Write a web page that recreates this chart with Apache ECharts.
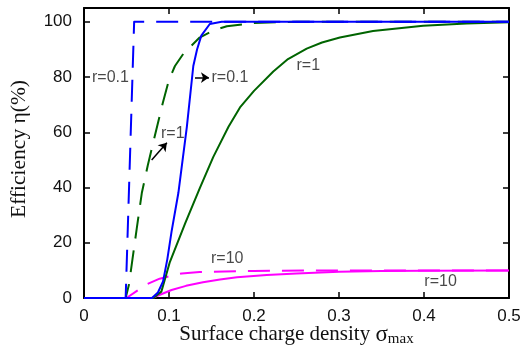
<!DOCTYPE html>
<html>
<head>
<meta charset="utf-8">
<script src="https://cdn.jsdelivr.net/npm/echarts@6/dist/echarts.min.js"></script>
<style>
  html, body { margin: 0; padding: 0; background: #fff; }
  #chart { width: 524px; height: 351px; }
</style>
</head>
<body>
<div id="chart"></div>
<script>
// curves: [sigma_max, efficiency %]
const blueDash = [[0, 0], [0.049, 0], [0.059, 100], [0.5, 100]];
const blueSolid = [[0, 0], [0.08, 0], [0.087, 2], [0.093, 6], [0.098, 14], [0.103, 24], [0.111, 38],
  [0.121, 62], [0.1286, 84], [0.133, 90], [0.138, 95], [0.148, 99.2], [0.162, 100], [0.5, 100]];
const greenDash = [[0, 0], [0.049, 0], [0.053, 5], [0.057, 14], [0.062, 25], [0.068, 38], [0.075, 48],
  [0.082, 57], [0.093, 71], [0.1, 79], [0.107, 84], [0.117, 88.5], [0.136, 94.3], [0.152, 96.8],
  [0.168, 98.4], [0.2, 99.6], [0.25, 100], [0.5, 100]];
const greenSolid = [[0, 0], [0.0816, 0], [0.091, 2.3], [0.101, 13], [0.119, 27], [0.1365, 40], [0.152, 51],
  [0.17, 62], [0.1835, 69], [0.2, 75], [0.2227, 82], [0.24, 86.5], [0.262, 90.3], [0.28, 92.5],
  [0.301, 94.3], [0.34, 96.7], [0.399, 98.6], [0.45, 99.4], [0.5, 99.8]];
const magentaDash = [[0, 0], [0.05, 0], [0.074, 5], [0.089, 7], [0.115, 8.9], [0.136, 9.4], [0.2, 9.8],
  [0.27, 10], [0.5, 10]];
const magentaSolid = [[0, 0], [0.08, 0], [0.103, 2.9], [0.12, 4.4], [0.14, 5.7], [0.16, 6.7], [0.18, 7.5],
  [0.215, 8.3], [0.25, 8.9], [0.3, 9.5], [0.35, 9.8], [0.4, 9.9], [0.5, 10]];

// labels next to the curves
const noteText = ['r=0.1', 'r=0.1', 'r=1', 'r=1', 'r=10', 'r=10'];
const noteX = [0.0094, 0.150, 0.250, 0.0906, 0.1494, 0.4004];
const noteY = [79.8, 79.8, 84, 59.5, 14.3, 6.1];
const arrows = [
  [[0.1306, 79.8], [0.147, 79.8]],
  [[0.0796, 50.0], [0.0975, 56.2]]
];

const xTicks = { min: 0, max: 0.5, interval: 0.1 };
const yTicks = { min: 0, max: 105, interval: 20 };

const blue = '#0000ff', green = '#006400', magenta = '#ff00ff';
const dash = [22, 12];

const lineSeries = (name, data, color, dashed) => ({
  name,
  type: 'line',
  data,
  showSymbol: false,
  symbol: 'none',
  smooth: false,
  lineStyle: { color, width: 2, type: dashed ? dash : 'solid', join: 'round' },
  z: 3
});

let chart = echarts.init(document.getElementById('chart'));

const frame = { show: true, onZero: false, lineStyle: { color: '#000', width: 2 } };
const tick = { show: true, inside: true, length: 6, lineStyle: { color: '#000', width: 1.5 } };

chart.setOption({
  animation: false,
  grid: { left: 84, right: 15, top: 8, bottom: 53, containLabel: false, outerBoundsMode: 'none' },
  xAxis: [{
    type: 'value',
    ...xTicks,
    name: '{n|Surface charge density }{s|σ}{sub|max}',
    nameLocation: 'middle',
    nameGap: 24,
    nameMoveOverlap: false,
    nameTextStyle: {
      rich: {
        n: { fontFamily: 'Liberation Serif', fontSize: 21, color: '#111' },
        s: { fontFamily: 'Liberation Serif', fontSize: 23, color: '#111' },
        sub: { fontFamily: 'Liberation Serif', fontSize: 15, color: '#111', padding: [10, 0, 0, 0] }
      }
    },
    axisLine: frame,
    axisTick: tick,
    splitLine: { show: false },
    axisLabel: { fontFamily: 'Liberation Sans', fontSize: 17, color: '#111', margin: 10 }
  }, {
    type: 'value',
    ...xTicks,
    position: 'top',
    axisLine: frame,
    axisTick: tick,
    splitLine: { show: false },
    axisLabel: { show: false }
  }],
  yAxis: [{
    type: 'value',
    ...yTicks,
    name: 'Efficiency η(%)',
    nameLocation: 'middle',
    nameGap: 54,
    nameMoveOverlap: false,
    nameTextStyle: { fontFamily: 'Liberation Serif', fontSize: 21.5, color: '#111', padding: [0, 0, 0, 8] },
    axisLine: frame,
    axisTick: tick,
    splitLine: { show: false },
    axisLabel: { fontFamily: 'Liberation Sans', fontSize: 17, color: '#111', margin: 12, showMaxLabel: false }
  }, {
    type: 'value',
    ...yTicks,
    position: 'right',
    axisLine: frame,
    axisTick: tick,
    splitLine: { show: false },
    axisLabel: { show: false }
  }],
  series: [
    lineSeries('magenta dashed', magentaDash, magenta, true),
    lineSeries('magenta solid', magentaSolid, magenta, false),
    lineSeries('green solid', greenSolid, green, false),
    lineSeries('green dashed', greenDash, green, true),
    lineSeries('blue solid', blueSolid, blue, false),
    lineSeries('blue dashed', blueDash, blue, true),
    {
      type: 'scatter',
      symbolSize: 0,
      data: noteText.map((t, i) => ({ name: t, value: [noteX[i], noteY[i]] })),
      label: {
        show: true,
        position: 'right',
        distance: 0,
        formatter: p => p.name,
        fontFamily: 'Liberation Sans',
        fontSize: 16,
        color: '#1a1a1a'
      },
      silent: true,
      z: 5,
      markLine: {
        silent: true,
        symbol: ['none', 'arrow'],
        symbolSize: 8,
        label: { show: false },
        lineStyle: { color: '#000', width: 1.5, type: 'solid' },
        data: arrows.map(a => [{ coord: a[0] }, { coord: a[1] }])
      }
    }
  ]
});
</script>
</body>
</html>
